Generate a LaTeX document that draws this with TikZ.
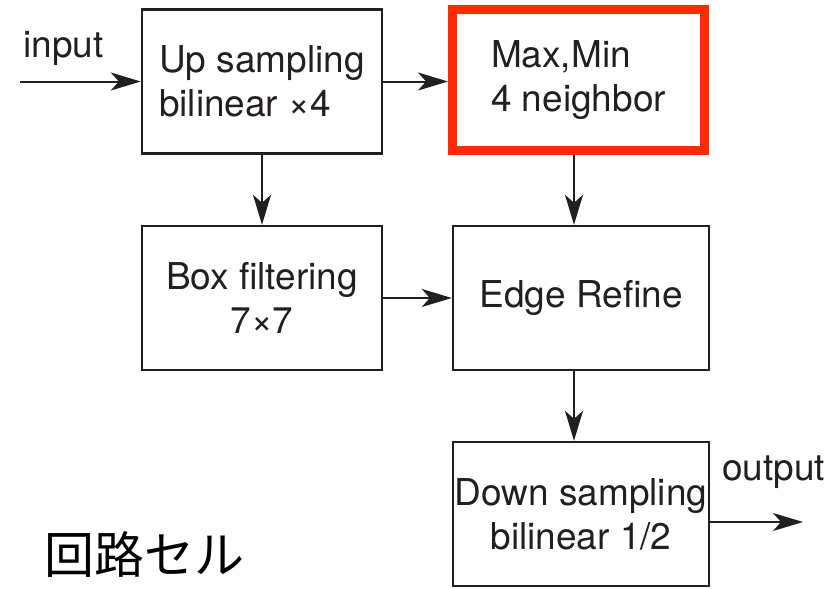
\documentclass[tikz,border=0pt]{standalone}
\usepackage{fontspec}
\setmainfont{TeX Gyre Heros}
\newfontfamily\jpfont{Noto Sans CJK JP}
\usetikzlibrary{positioning}
\usetikzlibrary{arrows.meta}
\usetikzlibrary{shadows}
\definecolor{inkGray}{HTML}{231F20}
\definecolor{hiRed}{HTML}{FF2A00}
\tikzset{%
	% Specifications for style of nodes:
	base/.style = {rectangle, draw=inkGray, line width=1.2pt, fill=white,
		inner sep=0pt, text=inkGray,
		font=\fontsize{18.5pt}{22pt}\selectfont},
	block/.style = {base, minimum width=120pt, minimum height=72pt},
	wideBlock/.style = {base, minimum width=128pt, minimum height=72pt},
	hiBlock/.style = {base, draw=hiRed, line width=4.5pt,
		minimum width=126pt, minimum height=70.5pt,
		drop shadow={shadow xshift=1.2pt, shadow yshift=-1.2pt, opacity=0.35}},
	ioText/.style = {inner sep=0pt, text=inkGray,
		font=\fontsize{18.5pt}{22pt}\selectfont},
	flow/.style = {draw=inkGray, line width=1pt,
		-{Stealth[length=15pt, width=9pt, inset=4pt]}}
}
\begin{document}
\begin{tikzpicture}[x=0.5pt, y=-0.5pt]
	\useasboundingbox (0,0) rectangle (831,589);
	\node [block, align=left] (upSamp) at (262,81.5) {Up sampling\\bilinear ×4};
	\node [hiBlock, align=left] (maxMin) at (578.5,80) {Max,Min\\4 neighbor};
	\node [block, align=center] (boxFilt) at (262,298) {Box filtering\\7×7};
	\node [wideBlock] (edgeRef) at (581,298) {Edge Refine};
	\node [wideBlock, align=center] (downSamp) at (581,514) {Down sampling\\bilinear 1/2};
	%% labels
	\node [ioText, anchor=base west] (inLabel) at (23,57) {input};
	\node [ioText, anchor=base west] (outLabel) at (722,480) {output};
	\node [anchor=base west, inner sep=0pt, font=\jpfont\fontsize{25pt}{30pt}\selectfont] (cellLabel) at (44,573) {回路セル};
	%% path
	\coordinate (inStart) at (20,81.5);
	\coordinate (outEnd) at (803,522);
	\draw[flow] (inStart) -- (upSamp.west);
	\draw[flow] (upSamp.east) -- (upSamp.east -| maxMin.west);
	\draw[flow] (upSamp) -- (boxFilt);
	\draw[flow] ([xshift=-3.5pt]edgeRef.north |- maxMin.south) -- ([xshift=-3.5pt]edgeRef.north);
	\draw[flow] (boxFilt) -- (edgeRef);
	\draw[flow] ([xshift=-3.5pt]edgeRef.south) -- ([xshift=-3.5pt]downSamp.north);
	\draw[flow] ([yshift=-4pt]downSamp.east) -- (outEnd);
\end{tikzpicture}
\end{document}
